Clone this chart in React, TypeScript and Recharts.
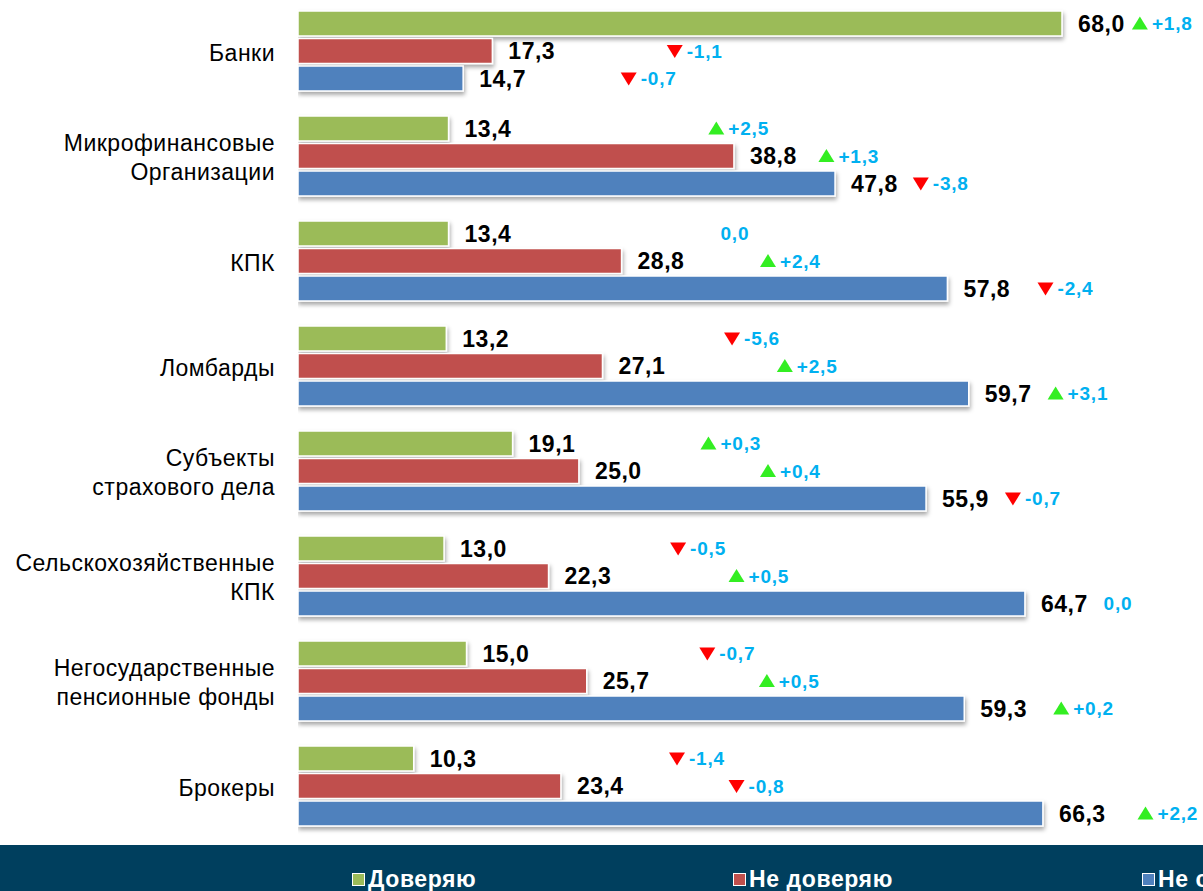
import { BarChart, Bar, XAxis, YAxis, LabelList, Legend } from 'recharts';

const categories = [
  'Банки',
  'Микрофинансовые\nОрганизации',
  'КПК',
  'Ломбарды',
  'Субъекты\nстрахового дела',
  'Сельскохозяйственные\nКПК',
  'Негосударственные\nпенсионные фонды',
  'Брокеры',
];
const seriesNames = ['Доверяю', 'Не доверяю', 'Не сталкивался'];
const trust = [68.0, 13.4, 13.4, 13.2, 19.1, 13.0, 15.0, 10.3];
const distrust = [17.3, 38.8, 28.8, 27.1, 25.0, 22.3, 25.7, 23.4];
const noContact = [14.7, 47.8, 57.8, 59.7, 55.9, 64.7, 59.3, 66.3];
// change vs previous survey
const trustChange = [1.8, 2.5, 0, -5.6, 0.3, -0.5, -0.7, -1.4];
const distrustChange = [-1.1, 1.3, 2.4, 2.5, 0.4, 0.5, 0.5, -0.8];
const noContactChange = [-0.7, -3.8, -2.4, 3.1, -0.7, 0, 0.2, 2.2];
// where each change note starts, in axis units
const trustChangeAt = [76.0, 38.3, 37.6, 39.7, 37.6, 34.9, 37.5, 34.8];
const distrustChangeAt = [34.6, 48.1, 42.9, 44.4, 42.9, 40.1, 42.8, 40.1];
const noContactChangeAt = [30.5, 56.5, 67.6, 68.5, 64.7, 71.7, 69.0, 76.5];

const COLORS = ['#9BBB59', '#C0504D', '#4F81BD'];
const FONT = 'Arial, "Liberation Sans", sans-serif';

const data = categories.map((name, i) => ({
  name,
  trust: trust[i],
  distrust: distrust[i],
  noContact: noContact[i],
}));

const fmt = (v: number) => v.toFixed(1).replace('.', ',');
const fmtChange = (v: number) => (v > 0 ? '+' + fmt(v) : v < 0 ? '-' + fmt(-v) : '0,0');

const BarShape = (props: any) => (
  <rect
    x={props.x}
    y={props.y}
    width={props.width}
    height={props.height}
    fill={props.fill}
    stroke="#fff"
    strokeWidth={1.5}
    filter="url(#barShadow)"
  />
);

const makeLabel = (values: number[], changes: number[], changeAt: number[]) => (props: any) => {
  const { x, y, width, height, index } = props;
  const ppu = width / values[index];
  const cy = y + height / 2;
  const ch = changes[index];
  const dx = x + changeAt[index] * ppu;
  return (
    <g fontFamily={FONT} fontWeight="bold">
      <text x={x + width + 16} y={cy} dy="0.36em" fontSize={23} letterSpacing={0.5} fill="#000">
        {fmt(values[index])}
      </text>
      {ch > 0 && (
        <polygon points={`${dx - 20},${cy + 6} ${dx - 4},${cy + 6} ${dx - 12},${cy - 7}`} fill="#33EE22" />
      )}
      {ch < 0 && (
        <polygon points={`${dx - 20},${cy - 6} ${dx - 4},${cy - 6} ${dx - 12},${cy + 7}`} fill="#FF0000" />
      )}
      <text x={dx} y={cy} dy="0.36em" fontSize={19} letterSpacing={0.8} fill="#00B0F0">
        {fmtChange(ch)}
      </text>
    </g>
  );
};

const CategoryTick = (props: any) => {
  const { x, y, payload } = props;
  const lines = String(payload.value).split('\n');
  const lh = 29;
  return (
    <text x={x} y={y + 2} textAnchor="end" fontSize={23} letterSpacing={0.5} fontFamily={FONT} fill="#000">
      {lines.map((l, i) => (
        <tspan key={i} x={x} dy={i === 0 ? `${-((lines.length - 1) * lh) / 2 + 8}` : lh}>
          {l}
        </tspan>
      ))}
    </text>
  );
};

const legendX = [352, 733, 1142];

const LegendContent = () => (
  <div style={{ position: 'relative', width: 1203, height: 46, background: '#003F5E', fontFamily: FONT }}>
    {seriesNames.map((n, i) => (
      <div
        key={n}
        style={{
          position: 'absolute',
          left: legendX[i],
          top: 21,
          display: 'flex',
          alignItems: 'center',
          whiteSpace: 'nowrap',
          color: '#fff',
          fontWeight: 'bold',
          fontSize: 23,
          letterSpacing: 0.6,
          lineHeight: '26px',
        }}
      >
        <span
          style={{
            display: 'inline-block',
            width: 11,
            height: 11,
            background: COLORS[i],
            border: '1.5px solid #fff',
            marginRight: 3,
          }}
        />
        {n}
      </div>
    ))}
  </div>
);

export default function App() {
  return (
    <div
      style={{
        position: 'absolute',
        left: 0,
        top: 0,
        width: 1203,
        height: 891,
        overflow: 'hidden',
        background: '#fff',
      }}
    >
      <div style={{ position: 'absolute', left: 0, top: -2.5 }}>
        <BarChart
          width={1203}
          height={893.5}
          data={data}
          layout="vertical"
          margin={{ top: 0, right: 0, bottom: 53.5, left: 0 }}
          barSize={25}
          barGap={2.5}
        >
          <defs>
            <filter id="barShadow" x="-5%" y="-30%" width="110%" height="180%">
              <feDropShadow dx="1" dy="3" stdDeviation="2" floodColor="#000" floodOpacity="0.35" />
            </filter>
          </defs>
          <XAxis type="number" domain={[0, 80.55]} allowDataOverflow hide />
          <YAxis
            type="category"
            dataKey="name"
            width={298}
            tickLine={false}
            axisLine={false}
            tickSize={0}
            tickMargin={23}
            interval={0}
            tick={<CategoryTick />}
          />
          <Legend
            layout="horizontal"
            verticalAlign="middle"
            align="center"
            wrapperStyle={{ position: 'absolute', top: 847.5, left: 0, width: 1203, height: 46, margin: 0 }}
            content={<LegendContent />}
          />
          <Bar dataKey="trust" name={seriesNames[0]} fill={COLORS[0]} shape={<BarShape />} isAnimationActive={false}>
            <LabelList dataKey="trust" content={makeLabel(trust, trustChange, trustChangeAt)} />
          </Bar>
          <Bar dataKey="distrust" name={seriesNames[1]} fill={COLORS[1]} shape={<BarShape />} isAnimationActive={false}>
            <LabelList dataKey="distrust" content={makeLabel(distrust, distrustChange, distrustChangeAt)} />
          </Bar>
          <Bar dataKey="noContact" name={seriesNames[2]} fill={COLORS[2]} shape={<BarShape />} isAnimationActive={false}>
            <LabelList dataKey="noContact" content={makeLabel(noContact, noContactChange, noContactChangeAt)} />
          </Bar>
        </BarChart>
      </div>
    </div>
  );
}
